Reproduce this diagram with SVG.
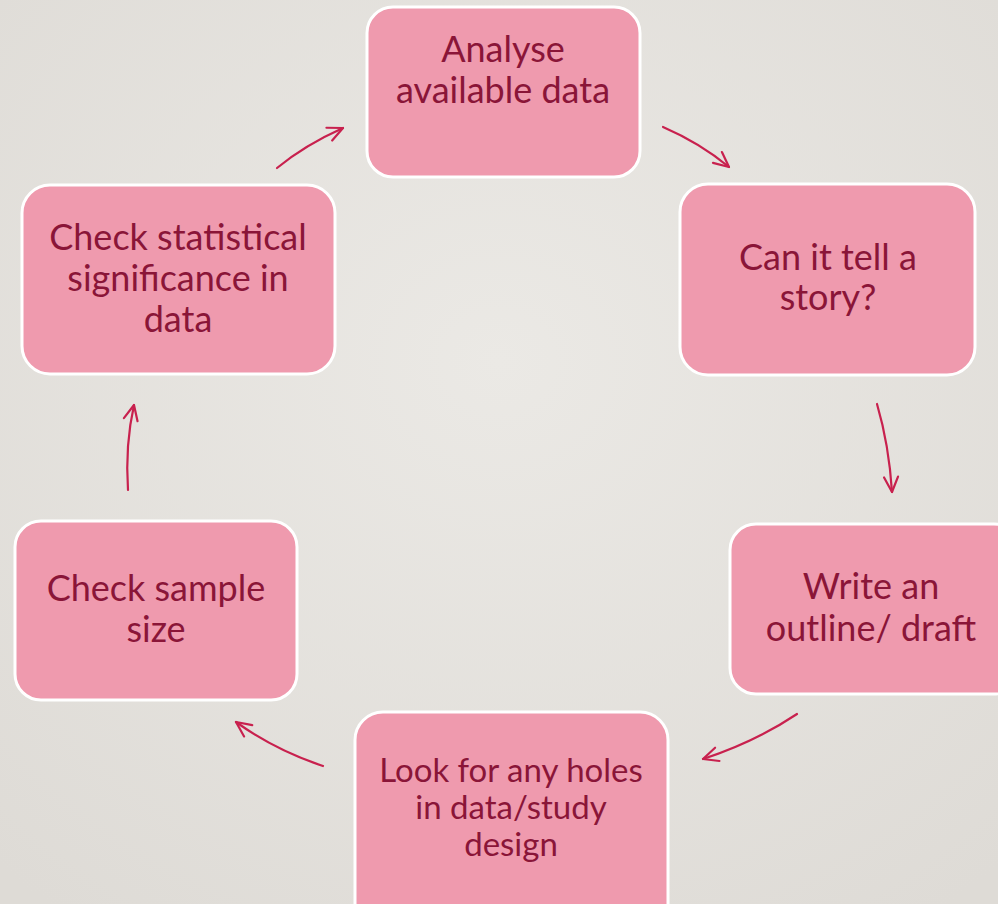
<svg xmlns="http://www.w3.org/2000/svg" width="998" height="904" viewBox="0 0 998 904">
<defs>
<radialGradient id="bg" cx="0.5" cy="0.4" r="0.75">
<stop offset="0" stop-color="#EBE9E5"/>
<stop offset="1" stop-color="#DEDBD6"/>
</radialGradient>
<marker id="ah" viewBox="0 0 20 20" refX="18" refY="10" markerWidth="20" markerHeight="20" markerUnits="userSpaceOnUse" orient="auto">
<polyline points="3,3 18,10 3,17" fill="none" stroke="#C8214E" stroke-width="2.2" stroke-linecap="round" stroke-linejoin="round"/>
</marker>
<style>
.box{fill:#EF9AAE;stroke:#FFFFFF;stroke-width:3}
.t{font-family:Lato,"Open Sans","Liberation Sans",sans-serif;fill:#8A1538;text-anchor:middle}
.c{fill:none;stroke:#C8214E;stroke-width:2.2;stroke-linecap:round;marker-end:url(#ah)}
</style>
</defs>
<rect width="998" height="904" fill="url(#bg)"/>
<g id="connectors">
<path class="c" d="M277,168 Q305,145 343,128"/>
<path class="c" d="M663,127 Q700,143 729,167"/>
<path class="c" d="M877,404 Q889,445 892,492"/>
<path class="c" d="M797,714 Q755,742 703,759"/>
<path class="c" d="M323,766 Q275,750 236,722"/>
<path class="c" d="M128,490 Q125,445 134,405"/>
</g>
<g id="n1">
<rect class="box" x="367" y="7" width="273" height="170" rx="26"/>
<text class="t" font-size="36"><tspan x="503" y="62">Analyse</tspan><tspan x="503" y="103">available data</tspan></text>
</g>
<g id="n2">
<rect class="box" x="680" y="184" width="295" height="191" rx="28"/>
<text class="t" font-size="36"><tspan x="828" y="270">Can it tell a</tspan><tspan x="828" y="310">story?</tspan></text>
</g>
<g id="n3">
<rect class="box" x="730" y="524" width="290" height="170" rx="26"/>
<text class="t" font-size="36"><tspan x="871" y="599">Write an</tspan><tspan x="871" y="641">outline/ draft</tspan></text>
</g>
<g id="n4">
<rect class="box" x="355" y="712" width="313" height="220" rx="28"/>
<text class="t" font-size="33"><tspan x="511" y="782">Look for any holes</tspan><tspan x="511" y="819">in data/study</tspan><tspan x="511" y="856">design</tspan></text>
</g>
<g id="n5">
<rect class="box" x="15" y="521" width="282" height="179" rx="26"/>
<text class="t" font-size="36"><tspan x="156" y="601">Check sample</tspan><tspan x="156" y="642">size</tspan></text>
</g>
<g id="n6">
<rect class="box" x="22" y="185" width="313" height="189" rx="28"/>
<text class="t" font-size="36"><tspan x="178" y="250">Check statistical</tspan><tspan x="178" y="291">significance in</tspan><tspan x="178" y="332">data</tspan></text>
</g>
</svg>
